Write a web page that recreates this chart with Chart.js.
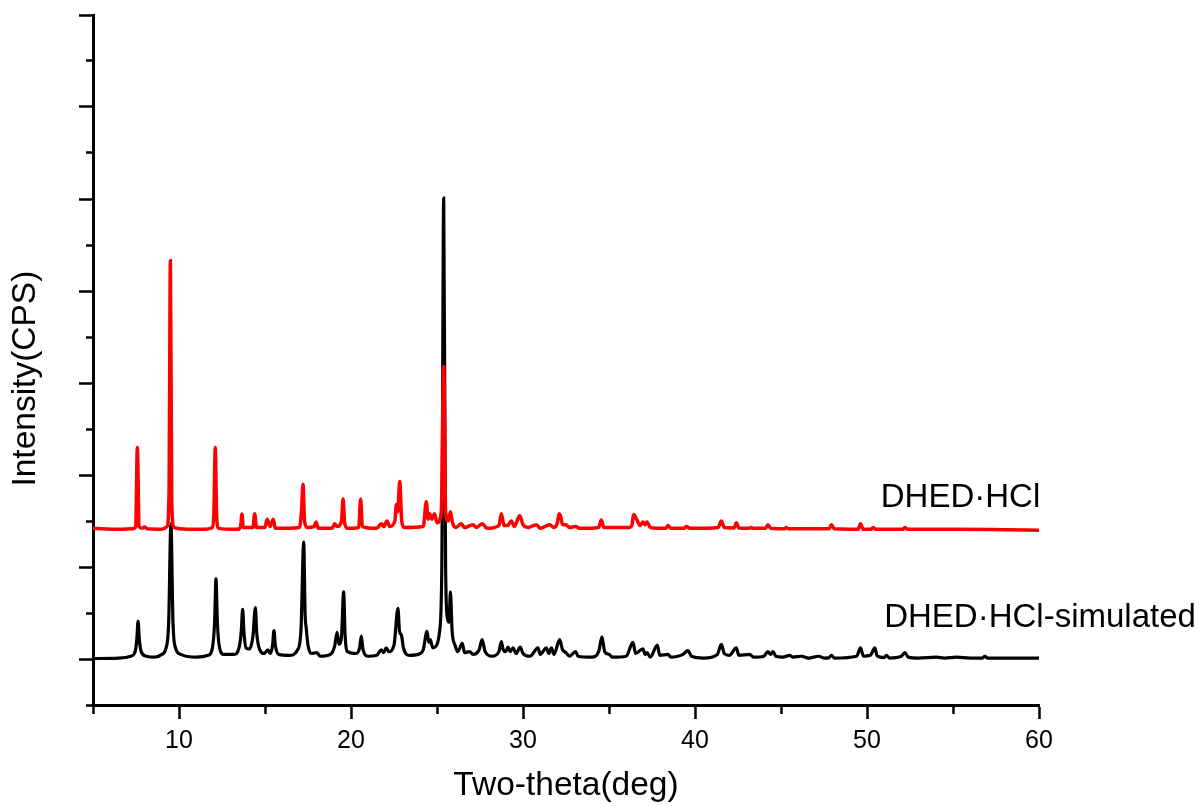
<!DOCTYPE html>
<html>
<head>
<meta charset="utf-8">
<script src="https://cdn.jsdelivr.net/npm/chart.js@4.4.1/dist/chart.umd.min.js"></script>
<style>
  body { margin: 0; background: #fff; }
  #wrap { width: 1201px; height: 806px; }
</style>
</head>
<body>
<div id="wrap"><canvas id="xrd" width="1201" height="806"></canvas></div>
<script>
// two-theta (deg) and intensity, black = simulated pattern
var simTheta = [5.0, 6.5, 7.2, 7.45, 7.55, 7.62, 7.69, 7.8, 8.1, 8.6,
  9.0, 9.25, 9.4, 9.53, 9.65, 9.8, 10.1, 11.0, 11.7, 11.95,
  12.07, 12.15, 12.23, 12.35, 12.6, 13.2, 13.5, 13.62, 13.7, 13.78,
  13.9, 14.1, 14.3, 14.44, 14.52, 14.7, 14.95, 15.17, 15.3, 15.44,
  15.52, 15.6, 15.8, 16.4, 16.9, 17.1, 17.25, 17.33, 17.4, 17.5,
  17.7, 18.02, 18.2, 18.8, 19.05, 19.19, 19.3, 19.45, 19.57, 19.66,
  19.8, 20.3, 20.5, 20.6, 20.7, 21.0, 21.5, 21.76, 21.9, 22.05,
  22.2, 22.5, 22.73, 22.82, 22.93, 23.05, 23.4, 24.03, 24.2, 24.42,
  24.52, 24.61, 24.75, 24.95, 25.15, 25.28, 25.39, 25.5, 25.6, 25.7,
  25.78, 25.88, 26.05, 26.2, 26.47, 26.6, 26.9, 27.1, 27.45, 27.62,
  27.8, 28.2, 28.6, 28.74, 28.85, 29.0, 29.13, 29.25, 29.42, 29.6,
  29.84, 30.0, 30.4, 30.87, 31.0, 31.36, 31.5, 31.65, 31.8, 32.13,
  32.3, 32.5, 32.7, 33.06, 33.2, 34.0, 34.4, 34.59, 34.75, 35.0,
  35.2, 36.0, 36.39, 36.55, 36.97, 37.1, 37.21, 37.4, 37.81, 37.95,
  38.43, 38.6, 39.0, 39.3, 39.59, 39.8, 40.5, 41.3, 41.53, 41.7,
  42.0, 42.4, 42.55, 43.18, 43.4, 44.0, 44.24, 44.4, 44.53, 44.7,
  45.1, 45.5, 45.7, 46.2, 46.6, 47.2, 47.5, 47.8, 47.93, 48.1,
  49.4, 49.62, 49.8, 50.2, 50.45, 50.6, 51.0, 51.13, 51.3, 52.0,
  52.2, 52.4, 53.0, 54.04, 54.5, 55.2, 56.0, 56.7, 56.85, 57.0,
  57.5, 58.5, 60.0];
var simCounts = [0.005, 0.01, 0.03, 0.08, 0.22, 0.41, 0.22, 0.08, 0.03, 0.02,
  0.05, 0.12, 0.4, 1.47, 0.4, 0.12, 0.05, 0.02, 0.04, 0.13,
  0.4, 0.87, 0.4, 0.13, 0.05, 0.05, 0.13, 0.3, 0.54, 0.28,
  0.12, 0.11, 0.25, 0.56, 0.28, 0.1, 0.06, 0.1, 0.06, 0.15,
  0.31, 0.15, 0.05, 0.04, 0.1, 0.35, 1.27, 0.5, 0.33, 0.15,
  0.06, 0.07, 0.03, 0.05, 0.14, 0.29, 0.16, 0.25, 0.73, 0.25,
  0.08, 0.06, 0.12, 0.25, 0.1, 0.03, 0.04, 0.1, 0.07, 0.12,
  0.08, 0.15, 0.55, 0.3, 0.26, 0.12, 0.04, 0.06, 0.1, 0.3,
  0.18, 0.21, 0.12, 0.14, 0.3, 1.0, 5.01, 1.0, 0.45, 0.4,
  0.73, 0.3, 0.15, 0.08, 0.17, 0.07, 0.08, 0.05, 0.1, 0.21,
  0.08, 0.03, 0.08, 0.19, 0.1, 0.08, 0.13, 0.08, 0.12, 0.06,
  0.13, 0.06, 0.03, 0.12, 0.05, 0.12, 0.06, 0.12, 0.05, 0.21,
  0.1, 0.07, 0.03, 0.08, 0.03, 0.02, 0.08, 0.24, 0.08, 0.05,
  0.02, 0.03, 0.18, 0.06, 0.11, 0.05, 0.07, 0.02, 0.15, 0.04,
  0.05, 0.02, 0.03, 0.05, 0.09, 0.03, 0.01, 0.05, 0.16, 0.06,
  0.04, 0.12, 0.04, 0.05, 0.02, 0.03, 0.08, 0.05, 0.08, 0.03,
  0.02, 0.04, 0.02, 0.03, 0.01, 0.03, 0.01, 0.015, 0.04, 0.01,
  0.03, 0.12, 0.03, 0.04, 0.12, 0.03, 0.015, 0.04, 0.01, 0.03,
  0.07, 0.02, 0.01, 0.02, 0.01, 0.02, 0.01, 0.01, 0.03, 0.01,
  0.01, 0.01, 0.01];

// red = measured pattern (offset upward in the figure)
var expTheta = [5.0, 6.5, 7.3, 7.48, 7.58, 7.68, 7.85, 8.0, 8.15, 9.0,
  9.3, 9.42, 9.5, 9.58, 9.7, 10.5, 11.5, 11.95, 12.03, 12.11,
  12.19, 12.3, 13.4, 13.58, 13.66, 13.74, 14.3, 14.4, 14.5, 15.0,
  15.12, 15.3, 15.48, 15.6, 17.0, 17.12, 17.21, 17.3, 17.45, 17.85,
  17.97, 18.1, 18.9, 19.05, 19.2, 19.45, 19.54, 19.63, 19.8, 20.45,
  20.56, 20.66, 21.5, 21.76, 21.9, 22.09, 22.25, 22.55, 22.64, 22.72,
  22.83, 22.95, 23.1, 24.2, 24.38, 24.48, 24.57, 24.7, 24.86, 25.0,
  25.25, 25.39, 25.5, 25.65, 25.78, 25.9, 26.1, 26.41, 26.6, 27.09,
  27.3, 27.64, 27.9, 28.6, 28.74, 28.9, 29.1, 29.32, 29.5, 29.81,
  30.0, 30.3, 30.78, 31.0, 31.55, 31.8, 32.0, 32.1, 32.19, 32.3,
  32.5, 32.7, 33.06, 33.3, 34.4, 34.55, 34.7, 36.2, 36.33, 36.43,
  36.63, 36.8, 36.97, 37.1, 37.21, 37.4, 38.3, 38.43, 38.6, 39.35,
  39.5, 39.7, 41.35, 41.53, 41.7, 42.28, 42.4, 42.55, 43.15, 43.27,
  43.4, 44.1, 44.24, 44.4, 45.2, 45.3, 45.45, 46.5, 47.8, 47.93,
  48.1, 49.48, 49.62, 49.78, 50.25, 50.35, 50.5, 52.08, 52.2, 52.35,
  55.0, 58.0, 60.0];
var expCounts = [1.42, 1.41, 1.415, 1.44, 2.30, 1.44, 1.42, 1.435, 1.415, 1.41,
  1.44, 1.8, 4.33, 1.7, 1.43, 1.41, 1.41, 1.43, 1.6, 2.30,
  1.55, 1.42, 1.41, 1.44, 1.576, 1.43, 1.43, 1.58, 1.43, 1.43,
  1.52, 1.44, 1.52, 1.42, 1.43, 1.6, 1.90, 1.5, 1.43, 1.44,
  1.49, 1.42, 1.42, 1.47, 1.44, 1.5, 1.74, 1.48, 1.42, 1.43,
  1.74, 1.44, 1.42, 1.47, 1.44, 1.50, 1.44, 1.5, 1.68, 1.6,
  1.93, 1.5, 1.43, 1.44, 1.71, 1.52, 1.58, 1.52, 1.58, 1.48,
  1.6, 3.18, 1.6, 1.5, 1.60, 1.48, 1.43, 1.47, 1.43, 1.46,
  1.43, 1.47, 1.42, 1.45, 1.58, 1.45, 1.45, 1.50, 1.44, 1.56,
  1.46, 1.43, 1.46, 1.42, 1.46, 1.43, 1.48, 1.58, 1.55, 1.46,
  1.46, 1.43, 1.44, 1.42, 1.43, 1.51, 1.43, 1.43, 1.45, 1.57,
  1.51, 1.45, 1.49, 1.46, 1.49, 1.43, 1.42, 1.45, 1.42, 1.42,
  1.44, 1.42, 1.43, 1.50, 1.43, 1.425, 1.48, 1.425, 1.42, 1.43,
  1.42, 1.42, 1.46, 1.42, 1.415, 1.43, 1.415, 1.415, 1.415, 1.46,
  1.415, 1.41, 1.47, 1.41, 1.41, 1.43, 1.41, 1.41, 1.43, 1.41,
  1.41, 1.405, 1.40];

var xTicks = [5, 10, 15, 20, 25, 30, 35, 40, 45, 50, 55, 60];
var xTickLabels = ['', '10', '', '20', '', '30', '', '40', '', '50', '', '60'];
var seriesNames = ['DHED\u00b7HCl', 'DHED\u00b7HCl-simulated'];

function toPoints(xs, ys) {
    return xs.map(function (x, i) { return { x: x, y: ys[i] }; });
}

var FONT = 'Arial, "Liberation Sans", sans-serif';

// names written next to the traces, placed in data coordinates
var traceLabels = {
    id: 'traceLabels',
    afterDatasetsDraw: function (chart, args, opts) {
        var ctx = chart.ctx;
        var xs = chart.scales.x, ys = chart.scales.y;
        ctx.save();
        ctx.font = opts.size + 'px ' + FONT;
        ctx.fillStyle = '#000';
        ctx.textBaseline = 'alphabetic';
        opts.items.forEach(function (it, i) {
            ctx.fillText(seriesNames[i], xs.getPixelForValue(it.x), ys.getPixelForValue(it.y));
        });
        ctx.restore();
    }
};

// ticks on the half steps are drawn short with a dash pattern
function isMinorX(c) { return c.tick && (c.tick.value % 10 !== 0); }
function isMinorY(c) { return c.tick && (Math.abs(c.tick.value % 1) > 0.01); }

var ctx = document.getElementById('xrd').getContext('2d');
var chart = new Chart(ctx, {
    type: 'line',
    data: {
        datasets: [{
            label: seriesNames[0],
            data: toPoints(expTheta, expCounts),
            borderColor: '#ff0000',
            borderWidth: 3.5,
            pointRadius: 0,
            cubicInterpolationMode: 'monotone'
        }, {
            label: seriesNames[1],
            data: toPoints(simTheta, simCounts),
            borderColor: '#000000',
            borderWidth: 3.2,
            pointRadius: 0,
            cubicInterpolationMode: 'monotone'
        }]
    },
    options: {
        responsive: false,
        animation: false,
        events: [],
        layout: { padding: { left: 0, right: 162, top: 15, bottom: 0 } },
        plugins: {
            legend: { display: false },
            tooltip: { enabled: false },
            traceLabels: {
                size: 33,
                items: [{ x: 50.8, y: 1.65 }, { x: 51.0, y: 0.35 }]
            }
        },
        scales: {
            x: {
                type: 'linear',
                min: 5,
                max: 60,
                afterBuildTicks: function (s) { s.ticks = xTicks.map(function (v) { return { value: v }; }); },
                afterFit: function (s) { s.height = 101; },
                ticks: {
                    autoSkip: false,
                    maxRotation: 0,
                    padding: 7,
                    color: '#000',
                    font: { family: FONT, size: 25 },
                    callback: function (v, i) { return xTickLabels[i]; }
                },
                grid: {
                    drawOnChartArea: false,
                    tickLength: 14,
                    tickColor: '#000',
                    tickWidth: 2.5,
                    tickBorderDash: function (c) { return isMinorX(c) ? [7, 100] : []; }
                },
                border: { color: '#000', width: 3 },
                title: {
                    display: true,
                    text: 'Two-theta(deg)',
                    color: '#000',
                    font: { family: FONT, size: 33.5 },
                    padding: { top: 0, bottom: 0 }
                }
            },
            y: {
                type: 'linear',
                min: -0.5,
                max: 7,
                afterFit: function (s) { s.width = 93; },
                ticks: { display: false, stepSize: 0.5 },
                grid: {
                    drawOnChartArea: false,
                    tickLength: 14,
                    tickColor: '#000',
                    tickWidth: 2.5,
                    tickBorderDash: function (c) { return isMinorY(c) ? [0, 7, 7, 100] : []; }
                },
                border: { color: '#000', width: 3 },
                title: {
                    display: true,
                    // trailing spaces push the centred text a little lower, as in the source figure
                    text: 'Intensity(CPS)\u00a0\u00a0\u00a0\u00a0',
                    color: '#000',
                    font: { family: FONT, size: 33.5 },
                    padding: { top: 6, bottom: 0 }
                }
            }
        }
    },
    plugins: [traceLabels]
});
</script>
</body>
</html>
